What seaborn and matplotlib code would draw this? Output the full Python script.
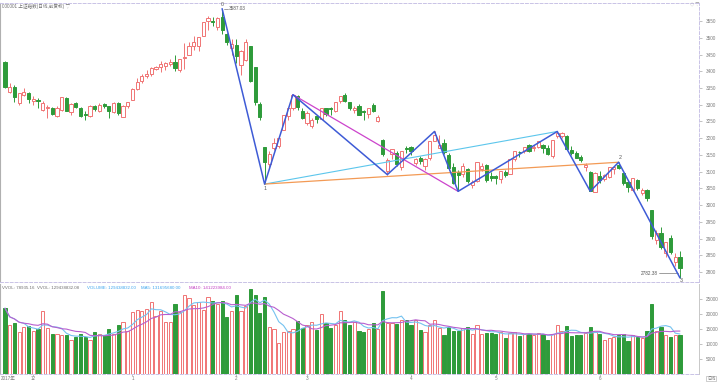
import numpy as np
import pandas as pd
import matplotlib
matplotlib.use("Agg")
import matplotlib.pyplot as plt
import seaborn as sns

# ---------------- data (index-level daily bars, 万手 volume) ----------------
opens = [3427, 3338, 3352, 3305, 3330, 3334, 3310, 3315, 3285, 3290,
         3290, 3265, 3285, 3320, 3278, 3305, 3290, 3272, 3266, 3295,
         3282, 3302, 3295, 3278, 3305, 3263, 3295, 3314, 3348, 3372,
         3387, 3392, 3406, 3414, 3416, 3423, 3428, 3404, 3439, 3450,
         3475, 3475, 3505, 3549, 3551, 3532, 3563, 3511, 3470, 3478,
         3419, 3435, 3474, 3414, 3303, 3173, 3122, 3170, 3177, 3225,
         3265, 3290, 3325, 3280, 3244, 3235, 3265, 3258, 3291, 3290,
         3280, 3312, 3330, 3307, 3284, 3295, 3282, 3272, 3300, 3250,
         3193, 3103, 3153, 3157, 3113, 3172, 3173, 3127, 3140, 3117,
         3140, 3191, 3172, 3185, 3150, 3114, 3100, 3093, 3107, 3060,
         3071, 3108, 3119, 3088, 3088, 3077, 3100, 3093, 3138, 3160,
         3162, 3180, 3170, 3175, 3180, 3172, 3146, 3207, 3206, 3207,
         3164, 3156, 3145, 3115, 3100, 3040, 3086, 3079, 3085, 3108,
         3119, 3095, 3070, 3046, 3076, 3035, 3044, 2984, 2896, 2917,
         2858, 2902, 2830, 2845]
highs = [3430, 3365, 3358, 3334, 3350, 3338, 3325, 3320, 3310, 3300,
         3292, 3295, 3323, 3324, 3305, 3307, 3292, 3280, 3298, 3298,
         3306, 3305, 3297, 3307, 3307, 3298, 3308, 3349, 3380, 3392,
         3403, 3412, 3417, 3430, 3427, 3436, 3450, 3437, 3485, 3487,
         3506, 3502, 3547, 3566, 3562, 3561, 3587.03, 3513, 3495, 3495,
         3464, 3495, 3475, 3414, 3309, 3173, 3162, 3200, 3200, 3270,
         3290, 3330, 3328, 3290, 3281, 3259, 3267, 3290, 3291, 3293,
         3308, 3327, 3334, 3308, 3296, 3302, 3284, 3291, 3304, 3268,
         3197, 3140, 3169, 3161, 3162, 3178, 3178, 3140, 3147, 3140,
         3191, 3220, 3210, 3197, 3155, 3125, 3105, 3127, 3110, 3075,
         3130, 3125, 3122, 3098, 3089, 3101, 3106, 3137, 3162, 3163,
         3175, 3182, 3180, 3192, 3182, 3180, 3194, 3220, 3219, 3208,
         3176, 3162, 3151, 3127, 3101, 3098, 3103, 3093, 3115, 3116,
         3128, 3097, 3073, 3080, 3078, 3052, 3048, 2984, 2925, 2933,
         2891, 2911, 2856, 2863]
lows = [3350, 3335, 3308, 3300, 3325, 3305, 3300, 3290, 3280, 3260,
        3270, 3263, 3282, 3280, 3270, 3290, 3264, 3255, 3264, 3280,
        3277, 3290, 3260, 3275, 3270, 3262, 3290, 3314, 3345, 3365,
        3380, 3385, 3403, 3398, 3405, 3417, 3402, 3398, 3408, 3450,
        3465, 3460, 3505, 3522, 3536, 3522, 3510, 3479, 3450, 3424,
        3389, 3431, 3367, 3299, 3255, 3062.74, 3110, 3165, 3170, 3224,
        3255, 3283, 3285, 3258, 3240, 3230, 3245, 3256, 3266, 3268,
        3278, 3305, 3307, 3283, 3276, 3268, 3254, 3260, 3278, 3247,
        3146, 3091, 3138, 3118, 3106, 3155, 3151, 3119, 3123, 3105,
        3135, 3190, 3170, 3152, 3104, 3063, 3041, 3084, 3067, 3050,
        3068, 3102, 3070, 3073, 3062, 3066, 3085, 3092, 3131, 3145,
        3155, 3160, 3162, 3170, 3155, 3150, 3142, 3200, 3200, 3166,
        3150, 3140, 3128, 3102, 3041, 3038, 3067, 3073, 3080, 3093,
        3107, 3061, 3039, 3042, 3046, 3030, 3011, 2899, 2883, 2870,
        2845, 2853, 2818, 2782.38]
closes = [3352, 3354, 3322, 3334, 3338, 3317, 3318, 3310, 3304, 3294,
          3272, 3289, 3322, 3281, 3303, 3292, 3266, 3268, 3297, 3288,
          3300, 3297, 3280, 3306, 3276, 3296, 3307, 3348, 3369, 3386,
          3392, 3409, 3414, 3422, 3425, 3429, 3410, 3437, 3444, 3475,
          3488, 3501, 3547, 3559, 3548, 3558, 3523, 3488, 3481, 3447,
          3462, 3487, 3371, 3309, 3262, 3130, 3154, 3185, 3199, 3269,
          3289, 3329, 3292, 3259, 3274, 3255, 3257, 3290, 3272, 3288,
          3307, 3327, 3310, 3291, 3291, 3270, 3279, 3291, 3281, 3263,
          3153, 3134, 3167, 3122, 3161, 3169, 3163, 3137, 3131, 3138,
          3190, 3208, 3180, 3159, 3111, 3067, 3091, 3117, 3072, 3068,
          3129, 3118, 3075, 3082, 3081, 3101, 3091, 3137, 3162, 3159,
          3174, 3163, 3174, 3192, 3170, 3154, 3193, 3214, 3214, 3169,
          3155, 3141, 3135, 3120, 3041, 3095, 3075, 3091, 3114, 3115,
          3110, 3067, 3053, 3080, 3050, 3044, 3022, 2908, 2916, 2876,
          2890, 2859, 2845, 2813]
volumes = [21900, 16100, 16900, 13900, 15500, 15800, 14100, 15000, 21000, 15200,
           13300, 13300, 13000, 12800, 11400, 12200, 13100, 12400, 11400, 13900,
           13300, 12800, 14800, 13300, 16400, 17400, 14400, 20600, 21300, 20900,
           21700, 23900, 19200, 21100, 17400, 17400, 23400, 20600, 26300, 25200,
           22800, 24100, 21300, 25600, 24400, 23300, 24200, 18900, 20800, 26300,
           21100, 22600, 28300, 26300, 20200, 25800, 15600, 15000, 10200, 13900,
           14100, 15000, 17600, 15300, 16100, 17200, 14700, 19800, 17000, 15200,
           16300, 20800, 17800, 16100, 17200, 14100, 13900, 15000, 16900, 15000,
           27800, 16900, 17000, 16700, 17800, 17800, 16300, 17800, 14700, 13900,
           16300, 17800, 15200, 13000, 15500, 14400, 14400, 15200, 15500, 13300,
           16100, 13300, 13600, 13700, 13300, 13900, 11900, 13600, 13900, 12600,
           13300, 13300, 12800, 13700, 13100, 11300, 13300, 16400, 14400, 15900,
           12600, 13000, 13000, 13600, 15500, 13900, 13100, 11400, 11900, 12200,
           12800, 13300, 10800, 12800, 12200, 11900, 14400, 23200, 14400, 15500,
           12800, 12200, 12800, 12944]

# zigzag pivots (bar index, price)
zz_idx = [46, 55, 61, 81, 91, 96, 117, 124, 130, 143]
zz_price = [3587.03, 3062.74, 3330, 3091, 3220, 3041, 3220, 3041, 3128, 2782.38]
magenta_idx = [61, 96]
magenta_price = [3330, 3041]
cyan_idx = [55, 117]
cyan_price = [3062.74, 3220]
orange_idx = [55, 130]
orange_price = [3062.74, 3128]

xtick_idx = [6, 27, 49, 64, 86, 104, 126]
xtick_labels = ["12", "1", "2", "3", "4", "5", "6"]
price_ticks = list(range(2800, 3551, 50))
vol_ticks = [5000, 10000, 15000, 20000, 25000]

title_text = "000001 上证指数(日线,前复权) ▽"
hdr1 = "VVOL: 78935.16  VVOL: 129438832.08"
hdr2 = "VOLUME: 129438832.00"
hdr3 = "MA5: 131695680.00"
hdr4 = "MA10: 141223984.00"

# ---------------- styling ----------------
sns.set_theme(style="white")
plt.rcParams['font.family'] = ['Liberation Sans', 'Noto Sans CJK SC', 'DejaVu Sans']

RED = "#f07474"
GREEN = "#2e9b3a"
BLUE = "#3e5bd6"
MAG = "#cc44cc"
CYAN = "#5cc6ec"
ORANGE = "#f39a55"
FRAME = "#c9c3e6"
TXT = "#7a7a7a"
FS = 3.3
HFS = 3.2

W, H = 720, 383
fig = plt.figure(figsize=(W / 100, H / 100), dpi=100)
fig.patch.set_facecolor("white")


def px_axes(x0, y0, x1, y1):
    return fig.add_axes([x0 / W, 1 - y1 / H, (x1 - x0) / W, (y1 - y0) / H])


axp = px_axes(0, 3, 699, 282)
axv = px_axes(0, 284, 699, 374)

df = pd.DataFrame({"o": opens, "h": highs, "l": lows, "c": closes, "v": volumes})
df["i"] = np.arange(len(df))
df["up"] = df["c"] >= df["o"]
edge = np.where(df["up"], RED, GREEN)
face = np.where(df["up"], "white", GREEN)

# wicks + bodies
axp.vlines(df["i"], df["l"], df["h"], colors=edge, linewidth=0.7, zorder=1)
body_bottom = np.minimum(df["o"], df["c"])
body_h = np.maximum(np.abs(df["c"] - df["o"]), 1.0)
axp.bar(df["i"], body_h, bottom=body_bottom, width=0.68, color=face,
        edgecolor=edge, linewidth=0.7, zorder=2)

# pattern lines
sns.lineplot(x=cyan_idx, y=cyan_price, ax=axp, color=CYAN, linewidth=0.8, zorder=3)
sns.lineplot(x=orange_idx, y=orange_price, ax=axp, color=ORANGE, linewidth=0.9, zorder=3)
sns.lineplot(x=magenta_idx, y=magenta_price, ax=axp, color=MAG, linewidth=0.9, zorder=3)
sns.lineplot(x=zz_idx, y=zz_price, ax=axp, color=BLUE, linewidth=1.1, sort=False,
             zorder=4, estimator=None)

# pivot labels
axp.text(zz_idx[0], 3599, "0", ha="center", va="center", fontsize=3.8, color="#555555")
axp.plot([zz_idx[0] + 0.3, zz_idx[0] + 1.2], [3587.03, 3587.03], color="#777777", lw=0.5)
axp.text(zz_idx[0] + 1.5, 3587.03, "3587.03", ha="left", va="center", fontsize=FS, color="#555555")
axp.text(zz_idx[1], 3049, "1", ha="center", va="center", fontsize=3.8, color="#555555")
axp.text(zz_idx[8] + 0.3, 3143, "2", ha="center", va="center", fontsize=3.8, color="#555555")
axp.text(zz_idx[9] + 0.3, 2775, "3", ha="center", va="center", fontsize=3.8,
         color="#555555", clip_on=False)
axp.plot([138.6, 142.6], [2796, 2796], color="#777777", lw=0.5)
axp.text(138.4, 2796, "2782.38", ha="right", va="center", fontsize=FS, color="#555555")

axp.set_xlim(-5 / 4.72, 694 / 4.72)
axp.set_ylim(2770, 3604)
axp.yaxis.tick_right()
axp.set_yticks(price_ticks)
axp.set_yticklabels([str(t) for t in price_ticks])
axp.set_xticks([])
axp.tick_params(axis="y", right=True, length=2, width=0.5, colors="#aaaaaa",
                labelcolor=TXT, labelsize=FS, pad=3)
axp.set_xlabel("")
axp.set_ylabel("")

# volume panel
axv.bar(df["i"], df["v"], width=0.68, color=face, edgecolor=edge, linewidth=0.7, zorder=2)
ma5 = df["v"].rolling(5, min_periods=1).mean()
ma10 = df["v"].rolling(10, min_periods=1).mean()
sns.lineplot(x=df["i"], y=ma5, ax=axv, color="#74c2f0", linewidth=0.8, zorder=3)
sns.lineplot(x=df["i"], y=ma10, ax=axv, color="#b85fcf", linewidth=0.8, zorder=3)
axv.set_xlim(-5 / 4.72, 694 / 4.72)
axv.set_ylim(-150, 30000)
axv.yaxis.tick_right()
axv.set_yticks(vol_ticks)
axv.set_yticklabels([str(t) for t in vol_ticks])
axv.set_xticks(xtick_idx)
axv.set_xticklabels(xtick_labels)
axv.tick_params(axis="y", right=True, length=2, width=0.5, colors="#aaaaaa",
                labelcolor=TXT, labelsize=FS, pad=3)
axv.tick_params(axis="x", bottom=True, length=1.5, width=0.5, colors="#aaaaaa",
                labelcolor=TXT, labelsize=FS, pad=0.3)
axv.text(-0.9, -0.025, "2017年", transform=axv.get_xaxis_transform(), ha="left",
         va="top", fontsize=FS, color=TXT, clip_on=False)
axv.set_xlabel("")
axv.set_ylabel("")

# frames
for ax in (axp, axv):
    for s in ("top", "bottom", "right"):
        ax.spines[s].set_color(FRAME)
        ax.spines[s].set_linestyle((0, (3, 2)))
        ax.spines[s].set_linewidth(0.7)
    ax.spines["left"].set_color("#b0b0b0")
    ax.spines["left"].set_linewidth(0.8)
axv.spines["top"].set_visible(False)
axv.spines["right"].set_linestyle("-")
axv.spines["right"].set_color("#c8c8c8")

# header texts
fig.text(2 / W, 1 - 6.5 / H, title_text, fontsize=FS, color="#6e6e6e", va="center", ha="left")
fig.text(690 / W, 1 - 5 / H, "◇ ▽", fontsize=3.0, color="#9a9a9a", va="center", ha="left")
yh = 1 - 288 / H
fig.text(2 / W, yh, hdr1, fontsize=HFS, color="#707070", va="center", ha="left")
fig.text(87 / W, yh, hdr2, fontsize=HFS, color="#3ea6ee", va="center", ha="left")
fig.text(141 / W, yh, hdr3, fontsize=HFS, color="#3ea6ee", va="center", ha="left")
fig.text(189 / W, yh, hdr4, fontsize=HFS, color="#c23fc2", va="center", ha="left")
fig.text(711 / W, 1 - 378.5 / H, "日线", fontsize=3.0, color="#777777", va="center", ha="center",
         bbox=dict(boxstyle="square,pad=0.15", fc="white", ec="#aaaaaa", lw=0.4))

fig.savefig("out.png", dpi=100, facecolor="white")
